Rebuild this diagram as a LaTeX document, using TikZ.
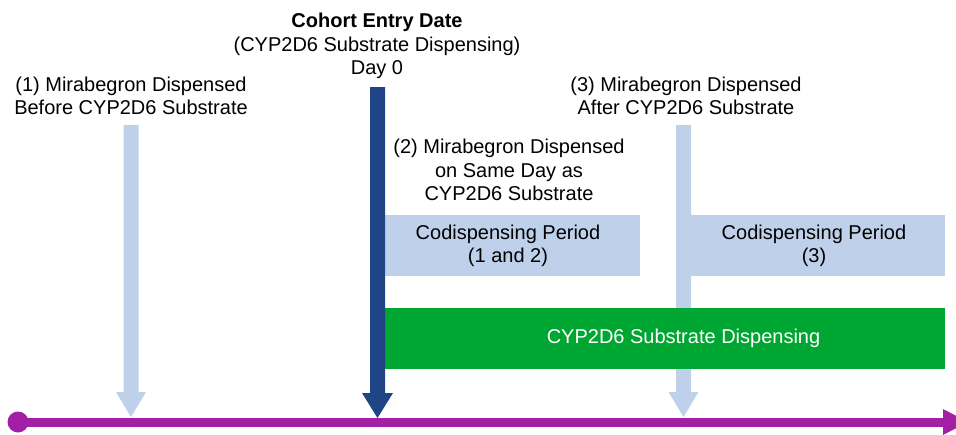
\documentclass[tikz,border=0pt]{standalone}
\usepackage{fontspec}
\setmainfont{Liberation Sans}
\definecolor{paleblue}{HTML}{BFD0EA}
\definecolor{navyblue}{HTML}{1F4587}
\definecolor{timeline}{HTML}{A31FA5}
\definecolor{dispgreen}{HTML}{00A632}
\tikzset{
  lbl/.style={align=center, inner sep=0pt, font=\fontsize{20}{23.5}\selectfont},
  period/.style={fill=paleblue},
}
\begin{document}
\begin{tikzpicture}[x=1pt, y=-1pt]
\useasboundingbox (0,0) rectangle (956,434);
\clip (0,0) rectangle (956,434);

% light arrows: mirabegron dispensed before / after
\foreach \cx in {131,683.5}{
  \fill[paleblue] (\cx-7.5,125) -- (\cx+7.5,125) -- (\cx+7.5,392) -- (\cx+15,392)
    -- (\cx,417) -- (\cx-15,392) -- (\cx-7.5,392) -- cycle;
}

% codispensing periods
\fill[period] (385,215) rectangle (640,276);
\fill[period] (683.5,215) rectangle (945,276);
\node[lbl] (per12) at (508,246) {Codispensing Period\\(1 and 2)};
\node[lbl] (per3) at (814,246) {Codispensing Period\\(3)};

% substrate dispensing bar
\fill[dispgreen] (385,308) rectangle (945,369);
\node[lbl, text=white] (subst) at (683.5,338) {CYP2D6 Substrate Dispensing};

% cohort entry date arrow
\fill[navyblue] (370,87) -- (385,87) -- (385,393) -- (393,393) -- (377.5,418)
  -- (362,393) -- (370,393) -- cycle;

% time axis
\fill[timeline] (18,417.5) rectangle (944,426.5);
\fill[timeline] (18,422) circle (10.5);
\fill[timeline] (943,409) -- (968,422) -- (943,435) -- cycle;

% labels
\node[lbl] (entry) at (377,46) {\textbf{Cohort Entry Date}\\(CYP2D6 Substrate Dispensing)\\Day 0};
\node[lbl] (before) at (131,96) {(1) Mirabegron Dispensed\\Before CYP2D6 Substrate};
\node[lbl] (after) at (686,96) {(3) Mirabegron Dispensed\\After CYP2D6 Substrate};
\node[lbl] (same) at (509,170) {(2) Mirabegron Dispensed\\on Same Day as\\CYP2D6 Substrate};
\end{tikzpicture}
\end{document}
